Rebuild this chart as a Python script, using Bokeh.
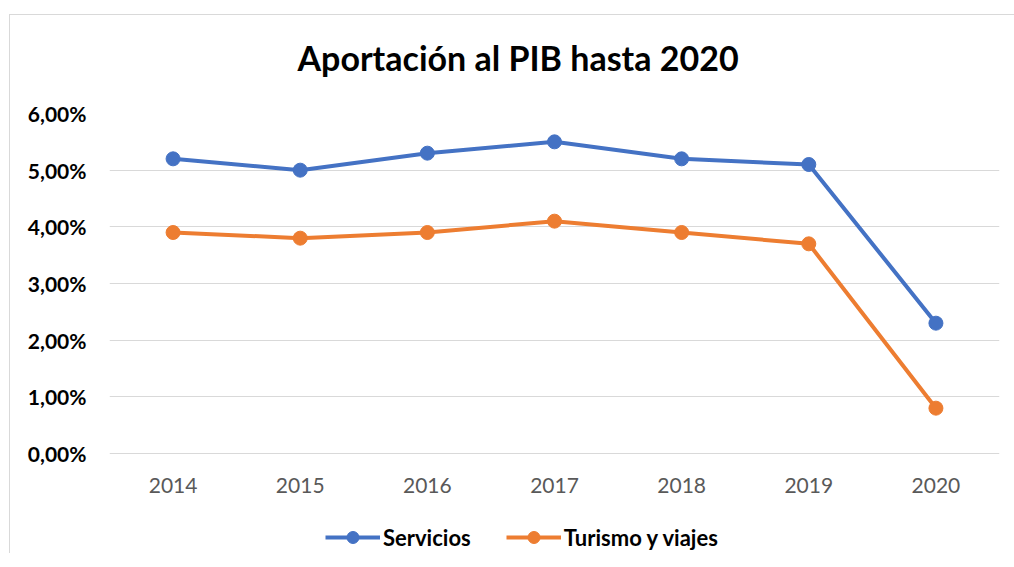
from bokeh.plotting import figure
from bokeh.models import (FactorRange, Range1d, Legend, LegendItem, Title,
                          CustomJSTickFormatter, FixedTicker)
from bokeh.embed import file_html
from bokeh.resources import INLINE

years = ["2014", "2015", "2016", "2017", "2018", "2019", "2020"]
servicios = [5.2, 5.0, 5.3, 5.5, 5.2, 5.1, 2.3]
turismo = [3.9, 3.8, 3.9, 4.1, 3.9, 3.7, 0.8]
y_ticks = [0, 1, 2, 3, 4, 5, 6]

BLUE = "#4472C4"
ORANGE = "#ED7D31"
FONT = "Lato"

# frame extends below the 0% line so the legend can sit inside it; 56.667 px per 1%
p = figure(frame_width=890, frame_height=440, x_range=FactorRange(*years),
           y_range=Range1d(-100 / (340 / 6), 6),
           output_backend="svg", toolbar_location=None, title=None,
           min_border_left=99, min_border_right=15, min_border_top=98, min_border_bottom=0)
p.outline_line_color = None
p.background_fill_color = "white"
p.border_fill_color = "white"
p.styles = {"margin-left": "9px", "margin-top": "14px",
            "border-left": "1px solid #D9D9D9", "border-top": "1px solid #D9D9D9"}

# spacer between title and plot area, then the main title
p.add_layout(Title(text=" ", text_font_size="10px", standoff=23), "above")
p.add_layout(Title(text="Aportación al PIB hasta 2020", align="left", offset=188, standoff=0,
                   text_font=FONT, text_font_size="34px", text_font_style="bold",
                   text_color="#000000"), "above")

p.xgrid.grid_line_color = None
p.ygrid.grid_line_color = "#D9D9D9"
p.ygrid.grid_line_width = 1

p.yaxis.ticker = FixedTicker(ticks=y_ticks)
p.yaxis.formatter = CustomJSTickFormatter(code="return tick.toFixed(2).replace('.', ',') + '%';")
for ax in (p.xaxis[0], p.yaxis[0]):
    ax.axis_line_color = None
    ax.major_tick_line_color = None
    ax.minor_tick_line_color = None
    ax.major_label_text_font = FONT
    ax.major_label_text_font_size = "21px"
p.yaxis.major_label_text_font_style = "bold"
p.yaxis.major_label_text_color = "#000000"
p.yaxis.major_label_standoff = 17
p.xaxis.fixed_location = 0
p.xaxis.major_label_text_color = "#595959"
p.xaxis.major_label_standoff = 18

l1 = p.line(years, servicios, line_color=BLUE, line_width=4)
c1 = p.scatter(years, servicios, size=14, fill_color=BLUE, line_color=BLUE)
l2 = p.line(years, turismo, line_color=ORANGE, line_width=4)
c2 = p.scatter(years, turismo, size=14, fill_color=ORANGE, line_color=ORANGE)

legend = Legend(items=[LegendItem(label="Servicios", renderers=[l1, c1]),
                       LegendItem(label="Turismo y viajes", renderers=[l2, c2])],
                orientation="horizontal", location=(216, 1),
                glyph_width=55, glyph_height=30, label_standoff=3, spacing=35,
                padding=0, margin=0, border_line_color=None, background_fill_alpha=0,
                label_text_font=FONT, label_text_font_size="22px",
                label_text_font_style="bold", label_text_color="#000000")
p.add_layout(legend, "center")

open("out.html", "w").write(file_html(p, INLINE))
